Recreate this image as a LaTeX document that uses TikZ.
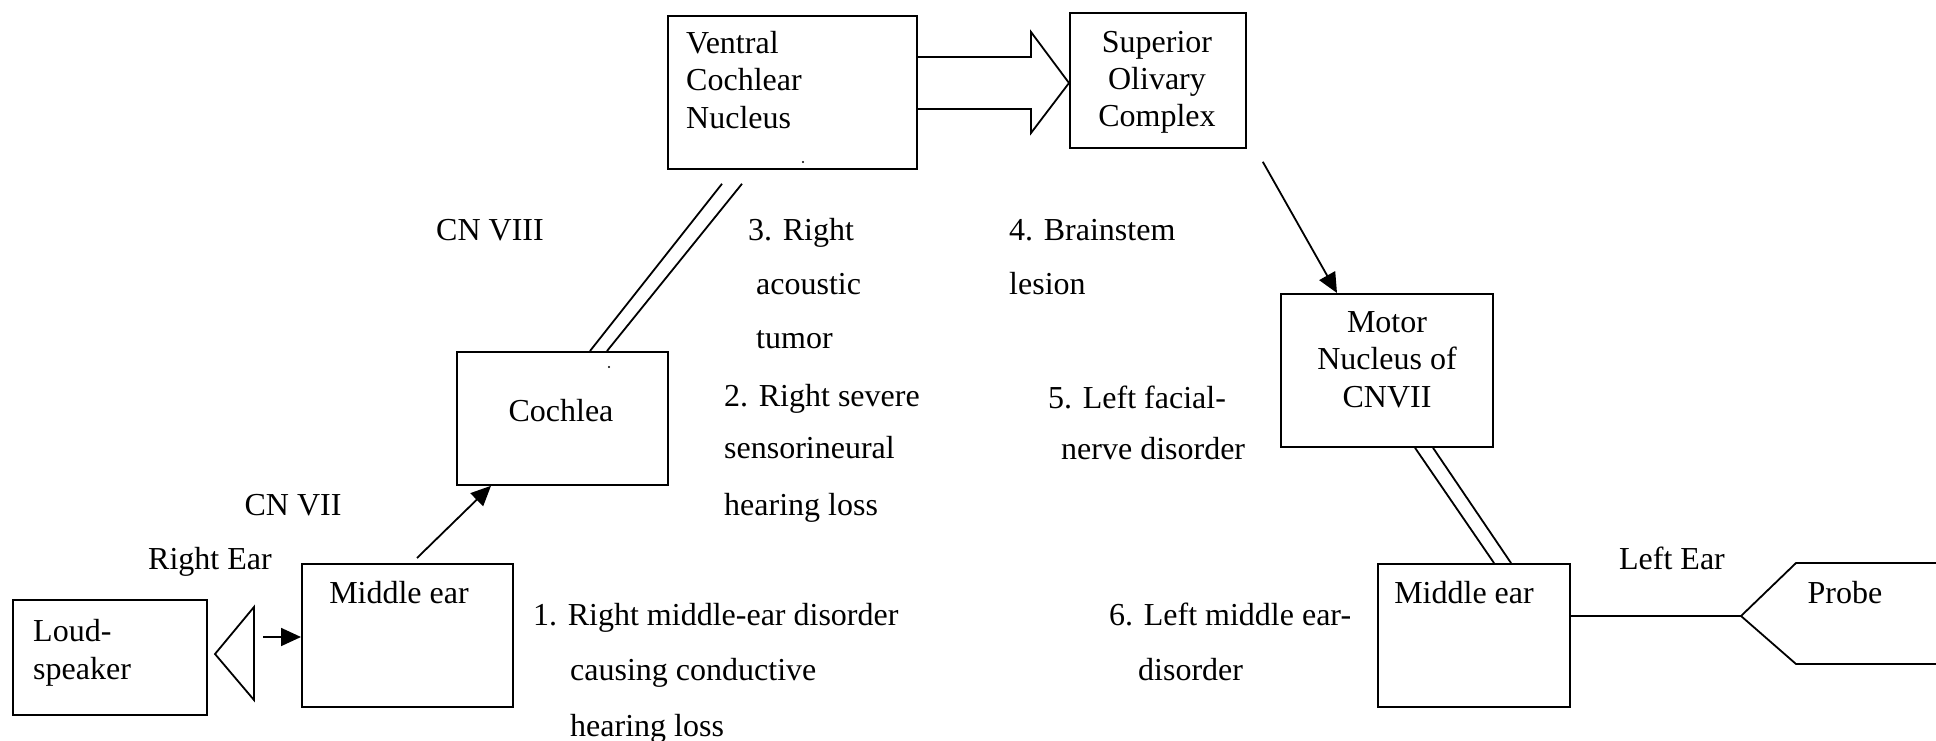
\documentclass[tikz,border=0pt]{standalone}
\usepackage{fontspec}
\setmainfont{Liberation Serif}
\usetikzlibrary{arrows.meta,calc}
\begin{document}
\begin{tikzpicture}[x=1pt,y=-1pt,
  ln/.style={line width=1.8pt},
  box/.style={draw,line width=1.8pt,inner sep=0pt,anchor=north west},
  txt/.style={font=\fontsize{32}{37}\selectfont,inner sep=0pt,anchor=base west},
  ctxt/.style={font=\fontsize{32}{37}\selectfont,inner sep=0pt,anchor=base},
  arr/.style={line width=1.8pt,-{Triangle[length=20pt,width=18pt]}}]
\useasboundingbox (0,0) rectangle (1936,741);
% boxes
\node[box,minimum width=249pt,minimum height=153pt] (vcn) at (667,15) {};
\node[box,minimum width=176pt,minimum height=135pt] (soc) at (1069,12) {};
\node[box,minimum width=212pt,minimum height=153pt] (motor) at (1280,293) {};
\node[box,minimum width=211pt,minimum height=133pt] (coch) at (456,351) {};
\node[box,minimum width=211pt,minimum height=143pt] (meR) at (301,563) {};
\node[box,minimum width=192pt,minimum height=143pt] (meL) at (1377,563) {};
\node[box,minimum width=194pt,minimum height=115pt] (spk) at (12,599) {};
% box texts
\node[txt] (vcn1) at (686,54) {Ventral};
\node[txt] (vcn2) at (686,91) {Cochlear};
\node[txt] (vcn3) at (686,129) {Nucleus};
\node[ctxt] (soc1) at (1157,53) {Superior};
\node[ctxt] (soc2) at (1157,90) {Olivary};
\node[ctxt] (soc3) at (1157,127) {Complex};
\node[ctxt] (mot1) at (1387,332) {Motor};
\node[ctxt] (mot2) at (1387,369) {Nucleus of};
\node[ctxt] (mot3) at (1387,407) {CNVII};
\node[ctxt] (cocht) at (561,421) {Cochlea};
\node[ctxt] (meRt) at (399,603) {Middle ear};
\node[ctxt] (meLt) at (1464,603) {Middle ear};
\node[ctxt] (probet) at (1845,603) {Probe};
\node[txt] (spk1) at (33,641) {Loud-};
\node[txt] (spk2) at (33,679) {speaker};
% free labels
\node[ctxt] (leftear) at (1672,569) {Left Ear};
\node[ctxt] (rightear) at (210,569) {Right Ear};
\node[ctxt] (cn8) at (490,240) {CN VIII};
\node[ctxt] (cn7) at (293,515) {CN VII};
\node[txt] (l3a) at (748,240) {3. Right};
\node[txt] (l3b) at (756,294) {acoustic};
\node[txt] (l3c) at (756,348) {tumor};
\node[txt] (l4a) at (1009,240) {4. Brainstem};
\node[txt] (l4b) at (1009,294) {lesion};
\node[txt] (l2a) at (724,406) {2. Right severe};
\node[txt] (l2b) at (724,458) {sensorineural};
\node[txt] (l2c) at (724,515) {hearing loss};
\node[txt] (l5a) at (1048,408) {5. Left facial-};
\node[txt] (l5b) at (1061,459) {nerve disorder};
\node[txt] (l1a) at (533,625) {1. Right middle-ear disorder};
\node[txt] (l1b) at (570,680) {causing conductive};
\node[txt] (l1c) at (570,736) {hearing loss};
\node[txt] (l6a) at (1109,625) {6. Left middle ear-};
\node[txt] (l6b) at (1138,680) {disorder};
% block arrow VCN -> SOC
\draw[ln,line join=miter] (vcn.east |- 0,57) -- (1031,57) -- (1031,32) -- (soc.west |- 0,83)
  -- (1031,133) -- (1031,109) -- (vcn.east |- 0,109);
% SOC -> Motor
\draw[arr] ($(soc.south east)+(16,13)$) -- (motor.north -| 1337,0);
% Motor => left middle ear (double line)
\draw[ln] (motor.south -| 1415,0) -- (meL.north -| 1494,0);
\draw[ln] (motor.south -| 1433,0) -- (meL.north -| 1511,0);
% left middle ear -- probe
\coordinate (ptip) at (1741,616);
\draw[ln] (meL.east |- 0,616) -- (ptip);
\draw[ln,line join=miter] (1936,563) -- (1796,563) -- (ptip) -- (1796,664) -- (1936,664);
% Cochlea => VCN (double line)
\coordinate (v1) at ($(vcn.south west)+(55,14)$);
\coordinate (v2) at ($(vcn.south west)+(75,14)$);
\draw[ln] (coch.north -| 590,0) -- (v1);
\draw[ln] (coch.north -| 607,0) -- (v2);
% middle ear -> cochlea
\draw[arr] ($(meR.north west)+(116,-5)$) -- (coch.south -| 491,0);
% loudspeaker
\coordinate (stip) at (215,654);
\draw[ln,line join=miter] (stip) -- (254,607) -- (254,700) -- cycle;
\draw[arr] (263,637) -- (meR.west |- 0,637);
% tiny dots
\fill (803,162) circle (1.2);
\fill (609,367) circle (1.2);
\end{tikzpicture}
\end{document}
